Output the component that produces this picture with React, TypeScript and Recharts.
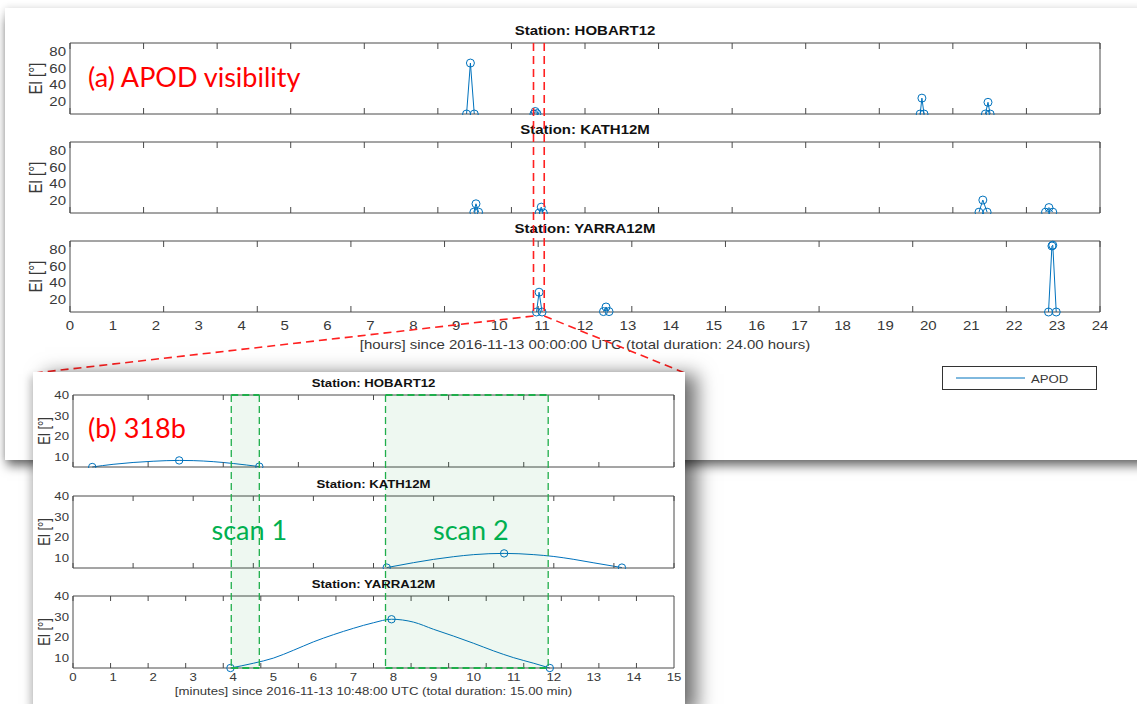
import React from "react";
import { LineChart, Line, XAxis, YAxis } from "recharts";

const BLUE = "#0072BD";
const AXIS = "#4a4a4a";
const INK = "#383838";
const FONT = "'Liberation Sans', Arial, sans-serif";
const NOTE_FONT = "Lato, 'Open Sans', sans-serif";

// (a) 24 h overview: each pass is start / max / end (hours since 00:00 UTC, elevation deg)
const HOUR_TICKS = [0, 1, 2, 3, 4, 5, 6, 7, 8, 9, 10, 11, 12, 13, 14, 15, 16, 17, 18, 19, 20, 21, 22, 23, 24];
const EL_TICKS_A = [20, 40, 60, 80];

const HOBART_HOURS = [9.24, 9.33, 9.42, 10.81, 10.84, 10.88, 19.81, 19.85, 19.9, 21.33, 21.39, 21.44];
const HOBART_EL = [5, 66, 5, 5, 8, 5.5, 5, 24, 5, 5, 19, 5];
const HOBART_PASS = [1, 1, 1, 2, 2, 2, 3, 3, 3, 4, 4, 4];

const KATH_HOURS = [9.41, 9.46, 9.52, 10.93, 10.98, 11.03, 21.18, 21.27, 21.37, 22.73, 22.81, 22.9];
const KATH_EL = [6, 16, 6, 5, 12, 5, 6, 20.5, 6, 6, 11.5, 6];
const KATH_PASS = [1, 1, 1, 2, 2, 2, 3, 3, 3, 4, 4, 4];

const YARRA_HOURS = [10.87, 10.93, 11.0, 12.43, 12.49, 12.56, 22.8, 22.88, 22.9, 22.98];
const YARRA_EL = [5, 28.7, 5, 5.5, 11, 5.5, 5, 84, 85, 5];
const YARRA_PASS = [1, 1, 1, 2, 2, 2, 3, 3, 3, 3];

// (b) 318b zoom: minutes since 10:48:00 UTC, markers only at start / max / end
const MIN_TICKS = [0, 1, 2, 3, 4, 5, 6, 7, 8, 9, 10, 11, 12, 13, 14, 15];
const EL_TICKS_B = [10, 20, 30, 40];

const HOBART_MIN = [0.48, 1, 1.5, 2, 2.65, 3, 3.5, 4, 4.65];
const HOBART_MIN_EL = [5, 6.3, 7.2, 7.8, 8.2, 8.1, 7.6, 6.7, 5.2];
const HOBART_MIN_MARK = [1, 0, 0, 0, 1, 0, 0, 0, 1];

const KATH_MIN = [7.83, 8.5, 9, 9.5, 10, 10.76, 11.5, 12, 12.5, 13, 13.7];
const KATH_MIN_EL = [5.2, 7.6, 9.2, 10.5, 11.5, 12.1, 11.5, 10.6, 9.2, 7.5, 5.2];
const KATH_MIN_MARK = [1, 0, 0, 0, 0, 1, 0, 0, 0, 0, 1];

const YARRA_MIN = [3.93, 4.5, 5, 5.5, 6, 6.5, 7, 7.5, 7.95, 8.5, 9, 9.5, 10, 10.5, 11, 11.5, 11.9];
const YARRA_MIN_EL = [5, 7.3, 9.8, 13.6, 17.7, 21.2, 24.3, 27, 28.7, 27.3, 23.8, 20.5, 17, 13.3, 10, 7.3, 5];
const YARRA_MIN_MARK = [1, 0, 0, 0, 0, 0, 0, 0, 1, 0, 0, 0, 0, 0, 0, 0, 1];

const SCAN_START = [3.95, 7.8];
const SCAN_END = [4.65, 11.86];
const SCAN_NAMES = ["scan 1", "scan 2"];
const ZOOM_WINDOW = [10.8, 11.05];

// layout
const A_LEFT = 70;
const A_W = 1030;
const A_H = 71;
const A_TOPS = [43, 142, 241];
const B_LEFT = 73;
const B_W = 601;
const B_H = 72;
const B_TOPS = [395, 496, 596];
const FS_A = 12.5;
const FS_B = 11;
const SX = 1.2;

const hourX = (h: number) => A_LEFT + (h / 24) * A_W;
const minX = (m: number) => B_LEFT + (m / 15) * B_W;

const passRows = (hours: number[], el: number[], pass: number[]) => {
  const rows: any[] = [];
  hours.forEach((h, i) => {
    if (i > 0 && pass[i] !== pass[i - 1]) rows.push({ x: h, el: null, mark: false });
    rows.push({ x: h, el: el[i], mark: true });
  });
  return rows;
};

const minuteRows = (m: number[], el: number[], mark: number[]) =>
  m.map((v, i) => ({ x: v, el: el[i], mark: mark[i] === 1 }));

const makeTick = (fs: number) => (props: any) => {
  const { x, y, payload, textAnchor, verticalAnchor } = props;
  const dy = verticalAnchor === "start" ? fs * 0.72 : fs * 0.36;
  return (
    <text
      transform={`translate(${x},${y}) scale(${SX},1)`}
      dy={dy}
      textAnchor={textAnchor}
      fontSize={fs}
      fontFamily={FONT}
      fill={INK}
    >
      {payload.value}
    </text>
  );
};

// tick lines only, no label
const noLabel = () => <g />;

const makeDot = (r: number) => (props: any) => {
  const { cx, cy, payload, index } = props;
  if (!payload || !payload.mark || cy == null || payload.el == null) return <g key={`d-${index}`} />;
  return <circle key={`d-${index}`} cx={cx} cy={cy} r={r} fill="none" stroke={BLUE} strokeWidth={1} />;
};

interface PlotProps {
  left: number;
  top: number;
  w: number;
  h: number;
  rows: any[];
  xDomain: [number, number];
  xTicks: number[];
  yDomain: [number, number];
  yTicks: number[];
  showX: boolean;
  fs: number;
  xTickLen: number;
  xLabelGap: number;
  curve: "linear" | "monotone";
  r: number;
}

const StationPlot = ({ left, top, w, h, rows, xDomain, xTicks, yDomain, yTicks, showX, fs, xTickLen, xLabelGap, curve, r }: PlotProps) => {
  const YW = 50;
  const PT = 8;
  const PR = 8;
  const XH = showX ? 26 : 1;
  const tick = makeTick(fs);
  const boxLine = { stroke: AXIS, strokeWidth: 1 };
  return (
    <div style={{ position: "absolute", left: left - YW, top: top - PT }}>
      <LineChart width={YW + w + PR} height={PT + h + XH} data={rows} margin={{ top: PT, right: PR, bottom: 0, left: 0 }}>
        {/* tick labels */}
        <XAxis
          xAxisId="b"
          dataKey="x"
          type="number"
          domain={xDomain}
          ticks={xTicks}
          interval={0}
          height={XH}
          tickSize={0}
          tickMargin={xLabelGap}
          axisLine={false}
          tickLine={false}
          tick={showX ? tick : false}
        />
        <YAxis
          yAxisId="l"
          type="number"
          domain={yDomain}
          ticks={yTicks}
          interval={0}
          width={YW}
          tickSize={0}
          tickMargin={4}
          axisLine={false}
          tickLine={false}
          tick={tick}
        />
        {/* box with inward ticks on all four sides */}
        <XAxis xAxisId="bm" mirror orientation="bottom" type="number" domain={xDomain} ticks={xTicks} interval={0}
          tickSize={xTickLen} axisLine={boxLine} tickLine={boxLine} tick={noLabel} />
        <XAxis xAxisId="tm" mirror orientation="top" type="number" domain={xDomain} ticks={xTicks} interval={0}
          tickSize={xTickLen} axisLine={boxLine} tickLine={boxLine} tick={noLabel} />
        <YAxis yAxisId="lm" mirror orientation="left" type="number" domain={yDomain} ticks={yTicks} interval={0}
          tickSize={10} axisLine={boxLine} tickLine={boxLine} tick={noLabel} />
        <YAxis yAxisId="rm" mirror orientation="right" type="number" domain={yDomain} ticks={yTicks} interval={0}
          tickSize={10} axisLine={boxLine} tickLine={boxLine} tick={noLabel} />
        <Line
          xAxisId="b"
          yAxisId="l"
          dataKey="el"
          type={curve}
          stroke={BLUE}
          strokeWidth={1}
          dot={makeDot(r)}
          activeDot={false}
          connectNulls={false}
          isAnimationActive={false}
        />
      </LineChart>
    </div>
  );
};

const SText = ({ x, y, fs, anchor = "middle", bold = false, rotate = false, children }: any) => (
  <text
    transform={rotate ? `translate(${x},${y}) scale(${SX},1) rotate(-90)` : `translate(${x},${y}) scale(${SX},1)`}
    textAnchor={anchor}
    fontSize={fs}
    fontWeight={bold ? "bold" : "normal"}
    fontFamily={FONT}
    fill={bold ? "#111" : INK}
  >
    {children}
  </text>
);

const STATIONS = ["HOBART12", "KATH12M", "YARRA12M"];

export default function App() {
  const aRows = [
    passRows(HOBART_HOURS, HOBART_EL, HOBART_PASS),
    passRows(KATH_HOURS, KATH_EL, KATH_PASS),
    passRows(YARRA_HOURS, YARRA_EL, YARRA_PASS),
  ];
  const bRows = [
    minuteRows(HOBART_MIN, HOBART_MIN_EL, HOBART_MIN_MARK),
    minuteRows(KATH_MIN, KATH_MIN_EL, KATH_MIN_MARK),
    minuteRows(YARRA_MIN, YARRA_MIN_EL, YARRA_MIN_MARK),
  ];
  const aMid = A_LEFT + A_W / 2;
  const bMid = B_LEFT + B_W / 2;
  const zx0 = hourX(ZOOM_WINDOW[0]);
  const zx1 = hourX(ZOOM_WINDOW[1]);
  const zoomY = A_TOPS[2] + A_H + 4;

  return (
    <div style={{ position: "absolute", left: 0, top: 0, width: 1137, height: 704, overflow: "hidden", background: "#fff" }}>
      {/* (a) card */}
      <div
        style={{
          position: "absolute",
          left: 5,
          top: 8,
          width: 1150,
          height: 452,
          background: "#fff",
          boxShadow: "0 8px 10px -2px rgba(0,0,0,0.55), 0 0 7px rgba(0,0,0,0.15)",
        }}
      />
      {aRows.map((rows, i) => (
        <StationPlot
          key={`a-${i}`}
          left={A_LEFT}
          top={A_TOPS[i]}
          w={A_W}
          h={A_H}
          rows={rows}
          xDomain={[0, 24]}
          xTicks={HOUR_TICKS}
          yDomain={[5, 90]}
          yTicks={EL_TICKS_A}
          showX={i === 2}
          fs={FS_A}
          xTickLen={6}
          xLabelGap={9}
          curve="linear"
          r={4}
        />
      ))}
      <svg width={1137} height={704} style={{ position: "absolute", left: 0, top: 0, pointerEvents: "none" }}>
        {STATIONS.map((s, i) => (
          <React.Fragment key={`at-${s}`}>
            <SText x={aMid} y={A_TOPS[i] - 8} fs={FS_A} bold>
              {`Station: ${s}`}
            </SText>
            <SText x={42} y={A_TOPS[i] + A_H / 2} fs={15} rotate>
              El [°]
            </SText>
          </React.Fragment>
        ))}
        <SText x={aMid} y={349} fs={FS_A}>
          [hours] since 2016-11-13 00:00:00 UTC (total duration: 24.00 hours)
        </SText>
        <rect x={942.5} y={366.5} width={154} height={23} fill="#fff" stroke="#333" strokeWidth={1} />
        <line x1={956} y1={378} x2={1025} y2={378} stroke={BLUE} strokeWidth={1} />
        <SText x={1031} y={382.5} fs={11} anchor="start">
          APOD
        </SText>
        <text x={88} y={87} fontSize={27} fontFamily={NOTE_FONT} fill="#ff0000">
          (a) APOD visibility
        </text>
        <g stroke="#ff2020" strokeWidth={1.6} strokeDasharray="8 5" fill="none">
          <line x1={zx0} y1={A_TOPS[0]} x2={zx0} y2={zoomY} />
          <line x1={zx1} y1={A_TOPS[0]} x2={zx1} y2={zoomY} />
          <line x1={zx0} y1={zoomY} x2={35} y2={373} />
          <line x1={zx1} y1={zoomY} x2={685} y2={373} />
        </g>
      </svg>

      {/* (b) card */}
      <div
        style={{
          position: "absolute",
          left: 33,
          top: 372,
          width: 652,
          height: 340,
          background: "#fff",
          boxShadow: "12px 2px 18px rgba(0,0,0,0.55), -3px 4px 8px rgba(0,0,0,0.2)",
        }}
      />
      {bRows.map((rows, i) => (
        <StationPlot
          key={`b-${i}`}
          left={B_LEFT}
          top={B_TOPS[i]}
          w={B_W}
          h={B_H}
          rows={rows}
          xDomain={[0, 15]}
          xTicks={MIN_TICKS}
          yDomain={[5, 40]}
          yTicks={EL_TICKS_B}
          showX={i === 2}
          fs={FS_B}
          xTickLen={5}
          xLabelGap={5}
          curve="monotone"
          r={3.7}
        />
      ))}
      <svg width={1137} height={704} style={{ position: "absolute", left: 0, top: 0, pointerEvents: "none" }}>
        {SCAN_START.map((s, i) => {
          const x0 = minX(s);
          const x1 = minX(SCAN_END[i]);
          const y0 = B_TOPS[0];
          const y1 = B_TOPS[2] + B_H;
          return (
            <g key={`scan-${i}`}>
              <rect x={x0} y={y0} width={x1 - x0} height={y1 - y0} fill="rgba(0,150,50,0.065)" stroke="none" />
              <g stroke="#1fae4b" strokeWidth={1.3} strokeDasharray="7 4" fill="none">
                <line x1={x0} y1={y0} x2={x0} y2={y1} />
                <line x1={x1} y1={y0} x2={x1} y2={y1} />
                <line x1={x0} y1={y0} x2={x1} y2={y0} strokeWidth={2} />
                <line x1={x0} y1={y1} x2={x1} y2={y1} strokeWidth={2} />
              </g>
              <text x={(x0 + x1) / 2 + 4} y={540} textAnchor="middle" fontSize={27} fontFamily={NOTE_FONT} fill="#00b050">
                {SCAN_NAMES[i]}
              </text>
            </g>
          );
        })}
        {STATIONS.map((s, i) => (
          <React.Fragment key={`bt-${s}`}>
            <SText x={bMid} y={B_TOPS[i] - 8} fs={FS_B} bold>
              {`Station: ${s}`}
            </SText>
            <SText x={50} y={B_TOPS[i] + B_H / 2} fs={13} rotate>
              El [°]
            </SText>
          </React.Fragment>
        ))}
        <SText x={bMid} y={695} fs={FS_B}>
          [minutes] since 2016-11-13 10:48:00 UTC (total duration: 15.00 min)
        </SText>
        <text x={88} y={438} fontSize={27} fontFamily={NOTE_FONT} fill="#ff0000">
          (b) 318b
        </text>
      </svg>
    </div>
  );
}
